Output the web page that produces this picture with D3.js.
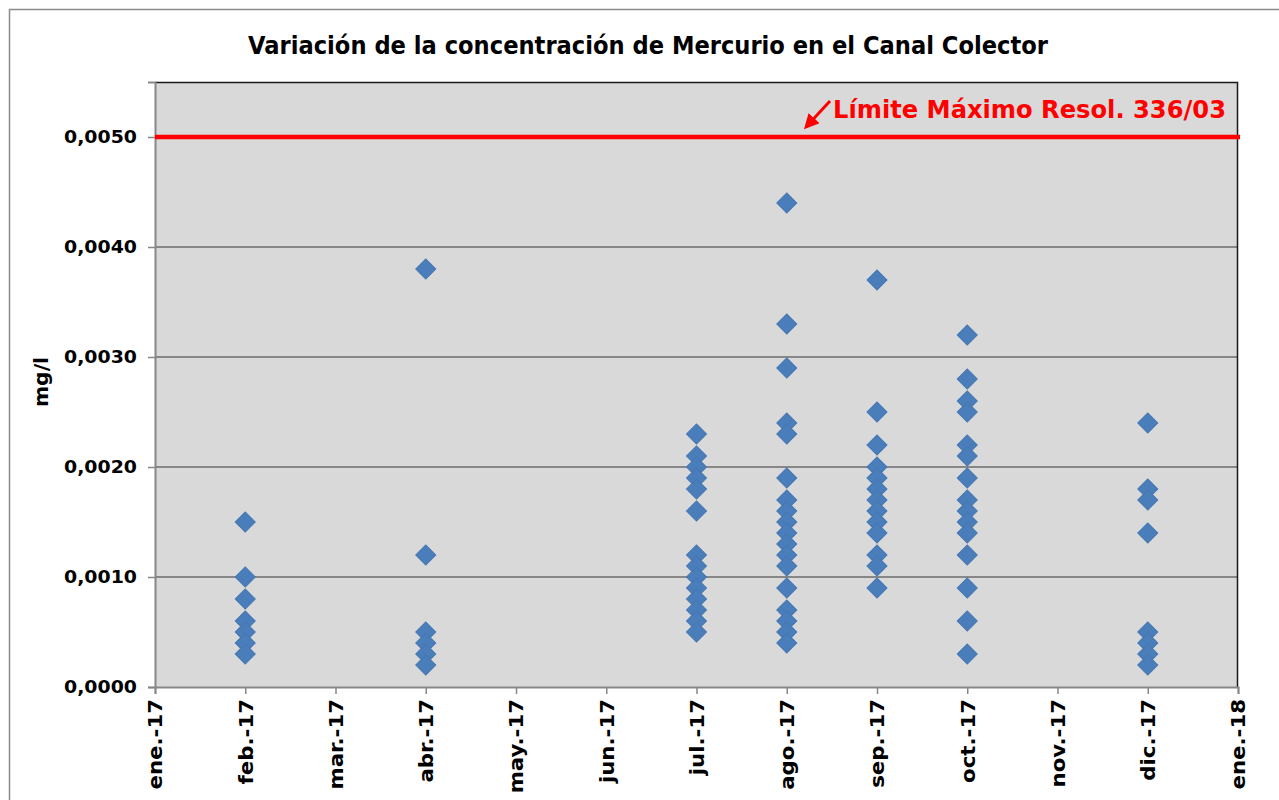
<!DOCTYPE html>
<html>
<head>
<meta charset="utf-8">
<script src="https://cdn.jsdelivr.net/npm/d3@7/dist/d3.min.js"></script>
<style>
  body { margin: 0; background: #fff; }
  svg { display: block; font-family: "DejaVu Sans", Verdana, sans-serif; }
</style>
</head>
<body>
<div id="container"></div>
<script>
// tick labels of the date axis (one per month)
const months = ['ene.-17', 'feb.-17', 'mar.-17', 'abr.-17', 'may.-17', 'jun.-17',
  'jul.-17', 'ago.-17', 'sep.-17', 'oct.-17', 'nov.-17', 'dic.-17', 'ene.-18'];

// Hg samples (mg/l) per sampled month
const febValues = [0.0015, 0.0010, 0.0008, 0.0006, 0.0005, 0.0004, 0.0003];
const abrValues = [0.0038, 0.0012, 0.0005, 0.0004, 0.0003, 0.0002];
const julValues = [0.0023, 0.0021, 0.0020, 0.0019, 0.0018, 0.0016, 0.0012, 0.0011,
  0.0010, 0.0009, 0.0008, 0.0007, 0.0006, 0.0005];
const agoValues = [0.0044, 0.0033, 0.0029, 0.0024, 0.0023, 0.0019, 0.0017, 0.0016,
  0.0015, 0.0014, 0.0013, 0.0012, 0.0011, 0.0009, 0.0007, 0.0006, 0.0005, 0.0004];
const sepValues = [0.0037, 0.0025, 0.0022, 0.0020, 0.0019, 0.0018, 0.0017, 0.0016,
  0.0015, 0.0014, 0.0012, 0.0011, 0.0009];
const octValues = [0.0032, 0.0028, 0.0026, 0.0025, 0.0022, 0.0021, 0.0019, 0.0017,
  0.0016, 0.0015, 0.0014, 0.0012, 0.0009, 0.0006, 0.0003];
const dicValues = [0.0024, 0.0018, 0.0017, 0.0014, 0.0005, 0.0004, 0.0003, 0.0002];

const yTicks = [0, 0.001, 0.002, 0.003, 0.004, 0.005];
const limit = 0.005;
const limitLabel = 'Límite Máximo Resol. 336/03';
const title = 'Variación de la concentración de Mercurio en el Canal Colector';

const samples = [
  ['feb.-17', febValues], ['abr.-17', abrValues], ['jul.-17', julValues],
  ['ago.-17', agoValues], ['sep.-17', sepValues], ['oct.-17', octValues],
  ['dic.-17', dicValues]
];
const points = samples.flatMap(([m, vals]) => vals.map(v => ({ month: m, value: v })));

const width = 1279, height = 800;
const margin = { top: 82, right: 41, bottom: 113, left: 155 };
const innerW = width - margin.left - margin.right;
const innerH = height - margin.top - margin.bottom;

// squeeze / stretch a text to the width it has in the original (Tahoma) chart
function stretch(sel, target) {
  sel.attr('textLength', target).attr('lengthAdjust', 'spacingAndGlyphs');
}

const svg = d3.select('#container').append('svg')
  .attr('width', width).attr('height', height);

svg.append('rect')
  .attr('x', 9.5).attr('y', 9.5)
  .attr('width', width + 10).attr('height', height + 10)
  .attr('fill', '#fff').attr('stroke', '#8c8c8c').attr('stroke-width', 1.5);

const g = svg.append('g').attr('transform', `translate(${margin.left},${margin.top})`);

const x = d3.scalePoint().domain(months).range([0, innerW]);
const y = d3.scaleLinear().domain([0, 0.0055]).range([innerH, 0]);

g.append('rect').attr('width', innerW).attr('height', innerH).attr('fill', '#d9d9d9');

// grid
g.append('g')
  .selectAll('line')
  .data(yTicks.slice(1))
  .join('line')
  .attr('x1', 0).attr('x2', innerW)
  .attr('y1', d => y(d)).attr('y2', d => y(d))
  .attr('stroke', '#878787').attr('stroke-width', 2);

// frame top / right
g.append('path')
  .attr('d', `M0,0.5H${innerW - 0.5}V${innerH}`)
  .attr('fill', 'none').attr('stroke', '#1a1a1a').attr('stroke-width', 1.5);

// y axis
const yAxis = g.append('g')
  .call(d3.axisLeft(y).tickValues(yTicks).tickSize(7).tickPadding(11)
    .tickFormat(d => d3.format('.4f')(d).replace('.', ',')));
yAxis.select('.domain').attr('stroke', '#878787').attr('stroke-width', 2);
yAxis.selectAll('.tick line').attr('stroke', '#878787').attr('stroke-width', 1.5);
yAxis.selectAll('.tick text')
  .attr('font-size', 18).attr('font-weight', 'bold').attr('fill', '#000')
  .attr('font-family', '"DejaVu Sans", Verdana, sans-serif')
  .each(function () { stretch(d3.select(this), 73); });

// x axis
const xAxis = g.append('g')
  .attr('transform', `translate(0,${innerH})`)
  .call(d3.axisBottom(x).tickSize(7));
xAxis.select('.domain').attr('stroke', '#878787').attr('stroke-width', 2);
xAxis.selectAll('.tick line').attr('stroke', '#878787').attr('stroke-width', 1.5);
xAxis.selectAll('.tick text')
  .attr('font-size', 19).attr('font-weight', 'bold').attr('fill', '#000')
  .attr('font-family', '"DejaVu Sans", Verdana, sans-serif')
  .attr('text-anchor', 'end')
  .attr('transform', 'rotate(-90)')
  .attr('x', -12).attr('y', 0).attr('dy', '0.36em')
  .each(function (d) {
    const t = d3.select(this);
    stretch(t, t.node().getComputedTextLength() * 1.12);
  });

// limit line
g.append('line')
  .attr('x1', 0).attr('x2', innerW + 2)
  .attr('y1', y(limit)).attr('y2', y(limit))
  .attr('stroke', '#ff0000').attr('stroke-width', 4.5);

// limit label + arrow
const lim = g.append('text')
  .attr('x', 678).attr('y', y(limit) - 19)
  .attr('font-size', 25).attr('font-weight', 'bold').attr('fill', '#ff0000')
  .text(limitLabel);
stretch(lim, 393);

svg.append('defs').append('marker')
  .attr('id', 'arrow').attr('viewBox', '0 0 10 10')
  .attr('refX', 8).attr('refY', 5)
  .attr('markerWidth', 5).attr('markerHeight', 5)
  .attr('orient', 'auto')
  .append('path').attr('d', 'M0,0L10,5L0,10z').attr('fill', '#ff0000');

g.append('line')
  .attr('x1', 675).attr('y1', y(limit) - 36)
  .attr('x2', 651).attr('y2', y(limit) - 10)
  .attr('stroke', '#ff0000').attr('stroke-width', 3)
  .attr('marker-end', 'url(#arrow)');

// points
g.append('g')
  .selectAll('path')
  .data(points)
  .join('path')
  .attr('transform', d => `translate(${x(d.month)},${y(d.value)}) rotate(45)`)
  .attr('d', d3.symbol().type(d3.symbolSquare).size(200))
  .attr('fill', '#4a7ebb').attr('stroke', '#4677b2').attr('stroke-width', 1);

// title
const tt = svg.append('text')
  .attr('x', 648).attr('y', 54)
  .attr('text-anchor', 'middle')
  .attr('font-size', 24).attr('font-weight', 'bold').attr('fill', '#000')
  .text(title);
stretch(tt, 800);

// y axis title
const yt = svg.append('text')
  .attr('transform', 'translate(48,382) rotate(-90)')
  .attr('text-anchor', 'middle')
  .attr('font-size', 19).attr('font-weight', 'bold').attr('fill', '#000')
  .text('mg/l');
stretch(yt, 50);
</script>
</body>
</html>
